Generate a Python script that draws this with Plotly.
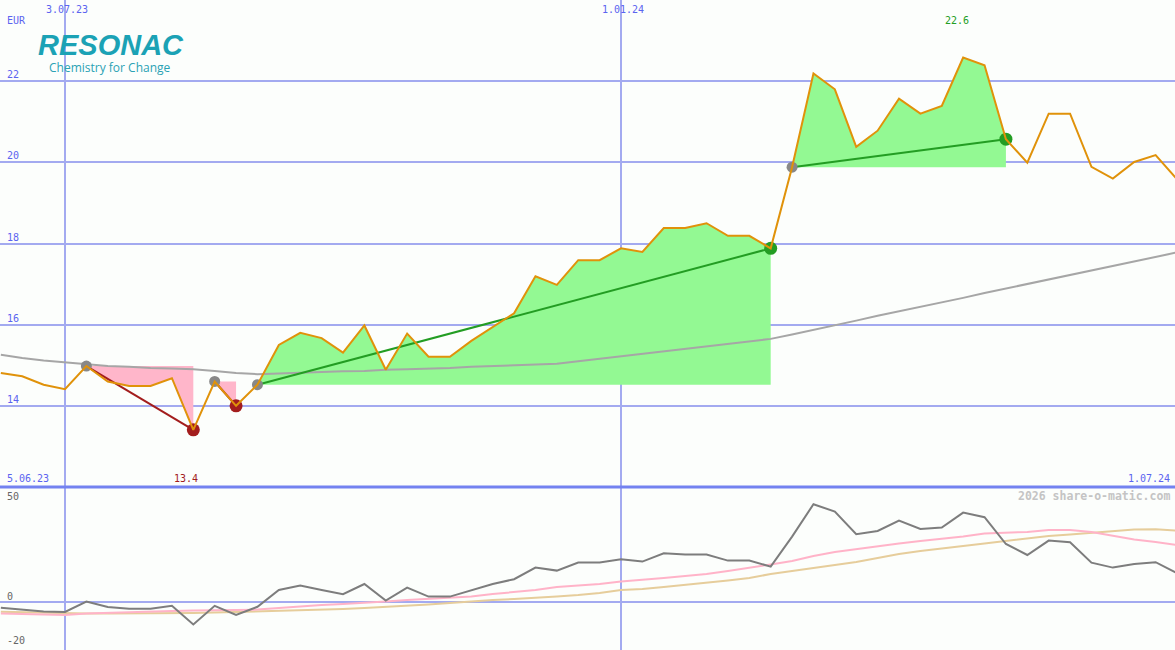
import pandas as pd
import plotly.graph_objects as go

# ---------------- data ----------------
dates = pd.date_range("2023-06-12", periods=56, freq="7D")

price = [14.81, 14.73, 14.52, 14.41, 14.98, 14.60, 14.49, 14.49, 14.68, 13.41,
         14.60, 14.00, 14.52, 15.50, 15.80, 15.67, 15.31, 15.98, 14.89, 15.78,
         15.21, 15.21, 15.60, 15.94, 16.28, 17.19, 16.98, 17.59, 17.59, 17.88,
         17.79, 18.38, 18.38, 18.50, 18.19, 18.19, 17.88, 19.88, 22.19, 21.80,
         20.38, 20.78, 21.57, 21.20, 21.39, 22.58, 22.39, 20.57, 19.99, 21.20,
         21.20, 19.89, 19.60, 20.01, 20.18, 19.58]

ma_long = [15.26, 15.18, 15.12, 15.07, 15.02, 14.98, 14.96, 14.93, 14.92, 14.90,
           14.86, 14.81, 14.78, 14.80, 14.81, 14.84, 14.85, 14.86, 14.89, 14.90,
           14.91, 14.93, 14.96, 14.98, 15.00, 15.02, 15.04, 15.10, 15.16, 15.22,
           15.28, 15.34, 15.40, 15.46, 15.52, 15.58, 15.65, 15.76, 15.87, 15.99,
           16.10, 16.22, 16.33, 16.43, 16.55, 16.66, 16.78, 16.89, 17.00, 17.11,
           17.22, 17.34, 17.45, 17.56, 17.67, 17.78]

osc = [-2.9, -3.7, -4.8, -5.0, 0.2, -2.5, -3.4, -3.4, -1.9, -11.2,
       -1.9, -6.5, -2.4, 6.0, 8.2, 6.0, 3.9, 9.0, 0.7, 7.2,
       2.7, 2.7, 6.0, 9.0, 11.4, 17.2, 15.7, 19.7, 19.7, 21.4,
       20.2, 24.4, 23.7, 23.7, 20.7, 20.7, 17.7, 32.7, 48.9, 45.2,
       33.9, 35.5, 40.7, 36.5, 37.2, 44.7, 42.4, 29.0, 23.5, 30.7,
       29.9, 19.7, 17.2, 19.0, 19.9, 14.4]

osc_fast = [-5.7, -6.0, -6.3, -6.5, -5.8, -5.4, -5.0, -4.8, -4.5, -4.3,
            -4.0, -4.0, -3.8, -3.0, -2.3, -1.5, -1.0, -0.5, 0.3, 1.0,
            1.5, 2.0, 2.8, 4.0, 5.0, 6.0, 7.5, 8.3, 9.0, 10.3,
            11.0, 12.0, 13.0, 14.0, 15.5, 17.0, 18.8, 20.5, 23.0, 25.0,
            26.5, 27.8, 29.3, 30.5, 31.5, 32.8, 34.3, 34.8, 35.0, 36.0,
            36.0, 35.0, 33.0, 31.3, 30.0, 28.5]

osc_slow = [-4.9, -5.1, -5.4, -5.7, -5.7, -5.7, -5.7, -5.7, -5.6, -5.5,
            -5.3, -5.0, -4.9, -4.5, -4.3, -4.0, -3.5, -3.0, -2.5, -2.0,
            -1.3, -0.5, 0.3, 1.0, 1.5, 2.0, 2.8, 3.5, 4.5, 6.0,
            6.5, 7.5, 8.5, 9.5, 10.8, 12.0, 14.0, 15.5, 17.0, 18.3,
            20.0, 22.0, 24.0, 25.5, 26.9, 28.0, 29.3, 30.5, 31.8, 33.0,
            33.8, 34.7, 35.5, 36.3, 36.4, 35.7]

# signal segments (index of start week, index of end week, kind)
sig_start = [4, 10, 12, 37]
sig_end = [9, 11, 36, 47]
sig_kind = ["loss", "loss", "gain", "gain"]

price_ticks = [14, 16, 18, 20, 22]
price_tick_labels = ["14", "16", "18", "20", "22"]
osc_ticks = [50, 0, -20]
osc_tick_labels = ["50", "0", "-20"]
date_ticks = ["2023-07-03", "2024-01-01"]
date_tick_labels = ["3.07.23", "1.01.24"]
period_labels = ["5.06.23", "1.07.24"]
low_label, high_label = "13.4", "22.6"
low_idx, high_idx = 9, 45

# ---------------- styles ----------------
W, H = 1175, 650
BG = "#fcfefc"
GRID = "#a3aaf0"
SEP = "#7382f0"
BLUE_TXT = "#5b64f0"
ORANGE = "#e0920a"
MA_GRAY = "#a6a6a6"
PINK_FILL = "#ffb6ca"
RED = "#a31d1d"
GREEN_FILL = "#93f993"
GREEN = "#239d23"
DOT_GRAY = "#888888"
MONO = "DejaVu Sans Mono"

split = 163 / H  # bottom panel height fraction

px_per_day = 556 / 182
x_left = pd.Timestamp("2023-07-03") - pd.Timedelta(days=65 / px_per_day)
x_right = x_left + pd.Timedelta(days=W / px_per_day)

fig = go.Figure()

# fills
for s, e, k in zip(sig_start, sig_end, sig_kind):
    xs = list(dates[s:e + 1]) + [dates[e], dates[s]]
    ys = price[s:e + 1] + [price[s], price[s]]
    fig.add_trace(go.Scatter(x=xs, y=ys, mode="lines", fill="toself",
                             fillcolor=PINK_FILL if k == "loss" else GREEN_FILL,
                             line=dict(width=0), hoverinfo="skip",
                             xaxis="x", yaxis="y"))

# long moving average
fig.add_trace(go.Scatter(x=dates, y=ma_long, mode="lines",
                         line=dict(color=MA_GRAY, width=2), xaxis="x", yaxis="y"))

# signal lines
for s, e, k in zip(sig_start, sig_end, sig_kind):
    fig.add_trace(go.Scatter(x=[dates[s], dates[e]], y=[price[s], price[e]],
                             mode="lines",
                             line=dict(color=RED if k == "loss" else GREEN, width=2),
                             xaxis="x", yaxis="y"))

# dots
fig.add_trace(go.Scatter(x=[dates[i] for i in sig_start], y=[price[i] for i in sig_start],
                         mode="markers", marker=dict(color=DOT_GRAY, size=11),
                         xaxis="x", yaxis="y"))
for e, k in zip(sig_end, sig_kind):
    fig.add_trace(go.Scatter(x=[dates[e]], y=[price[e]], mode="markers",
                             marker=dict(color=RED if k == "loss" else GREEN, size=13),
                             xaxis="x", yaxis="y"))

# price line
fig.add_trace(go.Scatter(x=dates, y=price, mode="lines",
                         line=dict(color=ORANGE, width=2), xaxis="x", yaxis="y"))

# oscillator panel
fig.add_trace(go.Scatter(x=dates, y=osc_slow, mode="lines",
                         line=dict(color="#e6cd9b", width=2), xaxis="x2", yaxis="y2"))
fig.add_trace(go.Scatter(x=dates, y=osc_fast, mode="lines",
                         line=dict(color="#ffb3c8", width=2), xaxis="x2", yaxis="y2"))
fig.add_trace(go.Scatter(x=dates, y=osc, mode="lines",
                         line=dict(color="#7d7d7d", width=2), xaxis="x2", yaxis="y2"))

xcommon = dict(range=[x_left, x_right], tickvals=date_ticks, showticklabels=False,
               showgrid=True, gridcolor=GRID, gridwidth=2, zeroline=False,
               showline=False, ticks="", fixedrange=True)
fig.update_layout(
    width=W, height=H, margin=dict(l=0, r=0, t=0, b=0),
    paper_bgcolor=BG, plot_bgcolor=BG, showlegend=False, hovermode=False,
    xaxis=dict(domain=[0, 1], anchor="y", **xcommon),
    xaxis2=dict(domain=[0, 1], anchor="y2", **xcommon),
    yaxis=dict(domain=[split, 1], range=[12.0, 24.0], tickvals=price_ticks,
               showticklabels=False, showgrid=True, gridcolor=GRID, gridwidth=2,
               zeroline=False, fixedrange=True),
    yaxis2=dict(domain=[0, split], range=[-24, 57.5], tickvals=[0],
                showticklabels=False, showgrid=True, gridcolor=GRID, gridwidth=2,
                zeroline=False, fixedrange=True),
)

# separator between panels
fig.add_shape(type="line", xref="paper", yref="paper", x0=0, x1=1, y0=split, y1=split,
              line=dict(color=SEP, width=3), layer="above")

ann = []
# date labels at top
for d, t in zip(date_ticks, date_tick_labels):
    ann.append(dict(x=d, xref="x", y=1, yref="paper", yanchor="top", xanchor="center",
                    yshift=-2, xshift=2, text=t,
                    font=dict(family=MONO, size=10, color=BLUE_TXT)))
ann.append(dict(x=5 / W, xref="paper", y=1 - 20 / H, yref="paper", xanchor="left",
                yanchor="middle", text="EUR", font=dict(family=MONO, size=10, color=BLUE_TXT)))
for v, t in zip(price_ticks, price_tick_labels):
    ann.append(dict(x=5 / W, xref="paper", y=v, yref="y", xanchor="left", yanchor="bottom",
                    yshift=-1, text=t, font=dict(family=MONO, size=10, color=BLUE_TXT)))
for v, t in zip(osc_ticks, osc_tick_labels):
    clipped = v < -22
    ann.append(dict(x=5 / W, xref="paper", y=-24 if v <= -20 else v, yref="y2",
                    xanchor="left", yanchor="bottom",
                    yshift=2 if v <= -20 else -2, text=t,
                    font=dict(family=MONO, size=10, color="#666666")))
# period labels
ann.append(dict(x=28 / W, xref="paper", y=split, yref="paper", xanchor="center",
                yanchor="bottom", yshift=1, text=period_labels[0],
                font=dict(family=MONO, size=10, color=BLUE_TXT)))
ann.append(dict(x=1172 / W, xref="paper", y=split, yref="paper", xanchor="right",
                yanchor="bottom", yshift=1, text=period_labels[1],
                font=dict(family=MONO, size=10, color=BLUE_TXT)))
# min / max labels
ann.append(dict(x=dates[low_idx], xref="x", y=split, yref="paper", xanchor="center",
                yanchor="bottom", yshift=1, xshift=-7, text=low_label,
                font=dict(family=MONO, size=10, color=RED)))
ann.append(dict(x=dates[high_idx], xref="x", y=1 - 20 / H, yref="paper", xanchor="center",
                yanchor="middle", xshift=-6, text=high_label,
                font=dict(family=MONO, size=10, color=GREEN)))
# watermark
ann.append(dict(x=1172 / W, xref="paper", y=1 - 496 / H, yref="paper", xanchor="right",
                yanchor="middle", text="<b>2026 share-o-matic.com</b>",
                font=dict(family=MONO, size=11.5, color="#c4c4c4")))
# logo
ann.append(dict(x=36 / W, xref="paper", y=1 - 45 / H, yref="paper", xanchor="left",
                yanchor="middle", text="<b><i>RESONAC</i></b>",
                font=dict(family="Liberation Sans", size=29, color="#1ba2b5")))
ann.append(dict(x=110 / W, xref="paper", y=1 - 67 / H, yref="paper", xanchor="center",
                yanchor="middle", text="Chemistry for Change",
                font=dict(family="Open Sans", size=12, color="#2aa2b4")))
for a in ann:
    a["showarrow"] = False
fig.update_layout(annotations=ann)

fig.write_html("out.html", config={"displayModeBar": False},
               post_script="document.body.style.margin='0';")
